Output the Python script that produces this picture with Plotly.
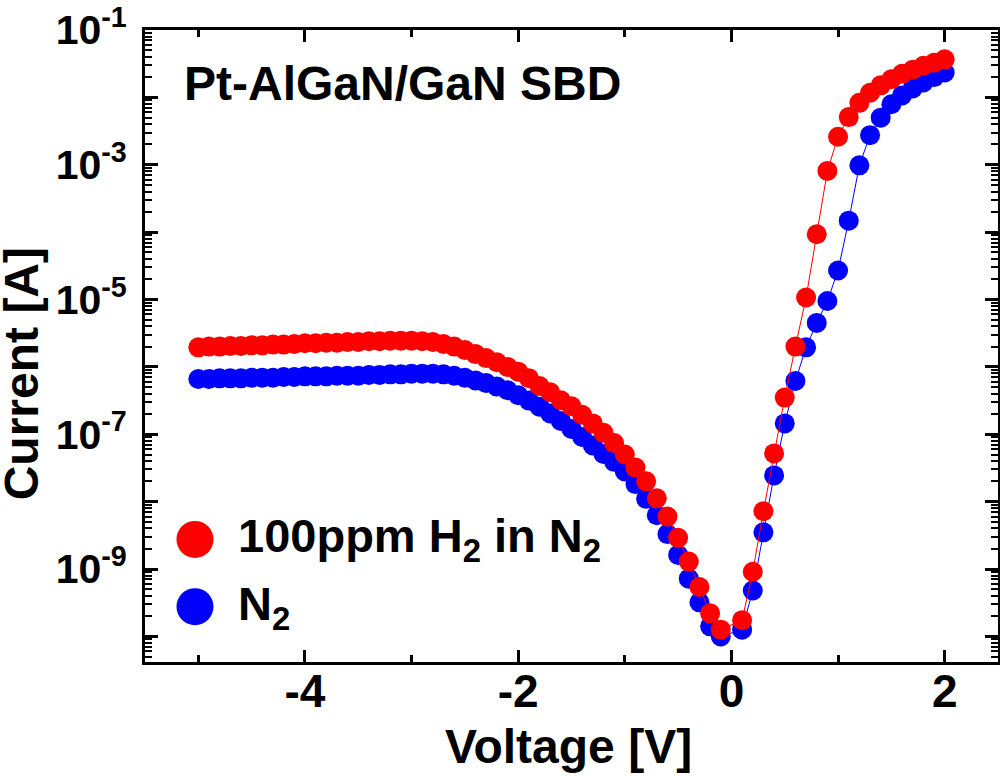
import plotly.graph_objects as go

# I-V sweep, Pt-AlGaN/GaN Schottky diode
voltage = [-5.0, -4.9, -4.8, -4.7, -4.6, -4.5, -4.4, -4.3, -4.2, -4.1,
           -4.0, -3.9, -3.8, -3.7, -3.6, -3.5, -3.4, -3.3, -3.2, -3.1,
           -3.0, -2.9, -2.8, -2.7, -2.6, -2.5, -2.4, -2.3, -2.2, -2.1,
           -2.0, -1.9, -1.8, -1.7, -1.6, -1.5, -1.4, -1.3, -1.2, -1.1,
           -1.0, -0.9, -0.8, -0.7, -0.6, -0.5, -0.4, -0.3, -0.2, -0.1,
           0.1, 0.2, 0.3, 0.4, 0.5, 0.6, 0.7, 0.8, 0.9, 1.0,
           1.1, 1.2, 1.3, 1.4, 1.5, 1.6, 1.7, 1.8, 1.9, 2.0]

current_h2 = [1.95e-6, 2.0e-6, 2.0e-6, 2.04e-6, 2.04e-6, 2.09e-6, 2.09e-6, 2.14e-6, 2.14e-6, 2.19e-6,
              2.24e-6, 2.24e-6, 2.29e-6, 2.29e-6, 2.34e-6, 2.34e-6, 2.40e-6, 2.40e-6, 2.45e-6, 2.45e-6,
              2.45e-6, 2.40e-6, 2.34e-6, 2.19e-6, 2.0e-6, 1.78e-6, 1.55e-6, 1.35e-6, 1.17e-6, 1.0e-6,
              8.5e-7, 6.8e-7, 5.2e-7, 4.2e-7, 3.2e-7, 2.6e-7, 1.95e-7, 1.45e-7, 1.05e-7, 7.4e-8,
              5.0e-8, 3.2e-8, 2.0e-8, 1.12e-8, 6.0e-9, 2.9e-9, 1.29e-9, 5.4e-10, 2.2e-10, 1.26e-10,
              1.74e-10, 9.1e-10, 7.2e-9, 5.2e-8, 3.5e-7, 2.0e-6, 1.07e-5, 9.3e-5, 8.1e-4, 2.6e-3,
              5.1e-3, 8.3e-3, 1.17e-2, 1.51e-2, 1.86e-2, 2.24e-2, 2.57e-2, 2.95e-2, 3.27e-2, 3.67e-2]

current_n2 = [6.6e-7, 6.6e-7, 6.76e-7, 6.76e-7, 6.76e-7, 6.9e-7, 6.9e-7, 6.9e-7, 7.08e-7, 7.08e-7,
              7.24e-7, 7.24e-7, 7.24e-7, 7.4e-7, 7.4e-7, 7.4e-7, 7.6e-7, 7.6e-7, 7.76e-7, 7.76e-7,
              7.94e-7, 7.94e-7, 7.94e-7, 7.76e-7, 7.4e-7, 6.9e-7, 6.3e-7, 5.75e-7, 5.1e-7, 4.5e-7,
              3.8e-7, 3.16e-7, 2.57e-7, 2.04e-7, 1.58e-7, 1.2e-7, 9.1e-8, 6.8e-8, 5.1e-8, 3.9e-8,
              2.8e-8, 1.82e-8, 1.1e-8, 6.3e-9, 3.3e-9, 1.62e-9, 7.2e-10, 3.2e-10, 1.41e-10, 1.0e-10,
              1.26e-10, 4.8e-10, 3.5e-9, 2.45e-8, 1.45e-7, 6.2e-7, 1.95e-6, 4.5e-6, 9.5e-6, 2.7e-5,
              1.48e-4, 9.8e-4, 2.75e-3, 5.0e-3, 7.9e-3, 1.07e-2, 1.36e-2, 1.66e-2, 2.0e-2, 2.34e-2]

y_tickvals = [1e-10, 1e-9, 1e-8, 1e-7, 1e-6, 1e-5, 1e-4, 1e-3, 1e-2, 1e-1]
y_ticktext = ['', '10<sup>-9</sup>', '', '10<sup>-7</sup>', '', '10<sup>-5</sup>',
              '', '10<sup>-3</sup>', '', '10<sup>-1</sup>']
x_tickvals = [-4, -2, 0, 2]
x_ticktext = ['-4', '-2', '0', '2']

title_text = 'Pt-AlGaN/GaN SBD'
x_title = 'Voltage [V]'
y_title = 'Current [A]'
legend_h2 = '100ppm H<sub>2</sub> in N<sub>2</sub>'
legend_n2 = 'N<sub>2</sub>'

font_name = 'Liberation Sans, Arial, sans-serif'
red = '#ff0000'
blue = '#0000ff'

fig = go.Figure()
fig.add_trace(go.Scatter(x=voltage, y=current_n2, mode='lines+markers', name='N2',
                         line=dict(color=blue, width=1),
                         marker=dict(color=blue, size=20), showlegend=False))
fig.add_trace(go.Scatter(x=voltage, y=current_h2, mode='lines+markers', name='100ppm H2 in N2',
                         line=dict(color=red, width=1),
                         marker=dict(color=red, size=20), showlegend=False))

# minor ticks 2..9 per decade
minor_y = [k * 10.0**e for e in range(-11, -1) for k in range(2, 10)]

fig.update_xaxes(range=[-5.5, 2.5], tickmode='array', tickvals=x_tickvals, ticktext=x_ticktext,
                 ticks='inside', ticklen=12, tickwidth=2.5, tickcolor='black',
                 minor=dict(tickmode='array', tickvals=[-5, -3, -1, 1], ticks='inside',
                            ticklen=7, tickwidth=2.5, tickcolor='black'),
                 showline=True, linewidth=3, linecolor='black', mirror='allticks',
                 showgrid=False, zeroline=False, automargin=False, ticklabelstandoff=-13,
                 ticklabeloverflow='allow',
                 tickfont=dict(family=font_name, size=46, color='black', weight='bold'))
fig.update_yaxes(type='log', range=[-10.38, -1], tickmode='array',
                 tickvals=y_tickvals, ticktext=y_ticktext,
                 ticks='inside', ticklen=13, tickwidth=2.5, tickcolor='black',
                 minor=dict(tickmode='array', tickvals=minor_y, ticks='inside',
                            ticklen=7, tickwidth=2, tickcolor='black'),
                 showline=True, linewidth=3, linecolor='black', mirror='allticks',
                 showgrid=False, zeroline=False, automargin=False, ticklabelstandoff=7,
                 ticklabeloverflow='allow',
                 tickfont=dict(family=font_name, size=41, color='black', weight='bold'))

# axis titles as annotations so they sit where the reference has them
fig.add_annotation(text=x_title, xref='paper', yref='paper', x=0.497, y=-0.133,
                   xanchor='center', yanchor='middle', showarrow=False,
                   font=dict(family=font_name, size=48, color='black', weight='bold'))
fig.add_annotation(text=y_title, xref='paper', yref='paper', x=-0.1448, y=0.456,
                   xanchor='center', yanchor='middle', textangle=-90, showarrow=False,
                   font=dict(family=font_name, size=48, color='black', weight='bold'))

# in-plot title
fig.add_annotation(text=title_text, xref='paper', yref='paper', x=0.043, y=0.915,
                   xanchor='left', yanchor='middle', showarrow=False,
                   font=dict(family=font_name, size=48, color='black', weight='bold'))

# hand-made legend: big round keys + labels
for ypos, col, label in [(0.194, red, legend_h2), (0.0875, blue, legend_n2)]:
    fig.add_shape(type='circle', xref='paper', yref='paper', xsizemode='pixel', ysizemode='pixel',
                  xanchor=0.0586, yanchor=ypos, x0=-18.5, x1=18.5, y0=-18.5, y1=18.5,
                  fillcolor=col, line=dict(width=0))
    fig.add_annotation(text=label, xref='paper', yref='paper', x=0.107, y=ypos,
                       xanchor='left', yanchor='middle', showarrow=False,
                       font=dict(family=font_name, size=47, color='black', weight='bold'))

fig.update_layout(width=1000, height=776, margin=dict(l=145, r=2, t=30, b=114),
                  plot_bgcolor='white', paper_bgcolor='white', showlegend=False)

# drop the default 8px page margin so the figure fills the window exactly
fig.write_html("out.html", config={'displayModeBar': False},
               post_script="document.body.style.margin='0';")
